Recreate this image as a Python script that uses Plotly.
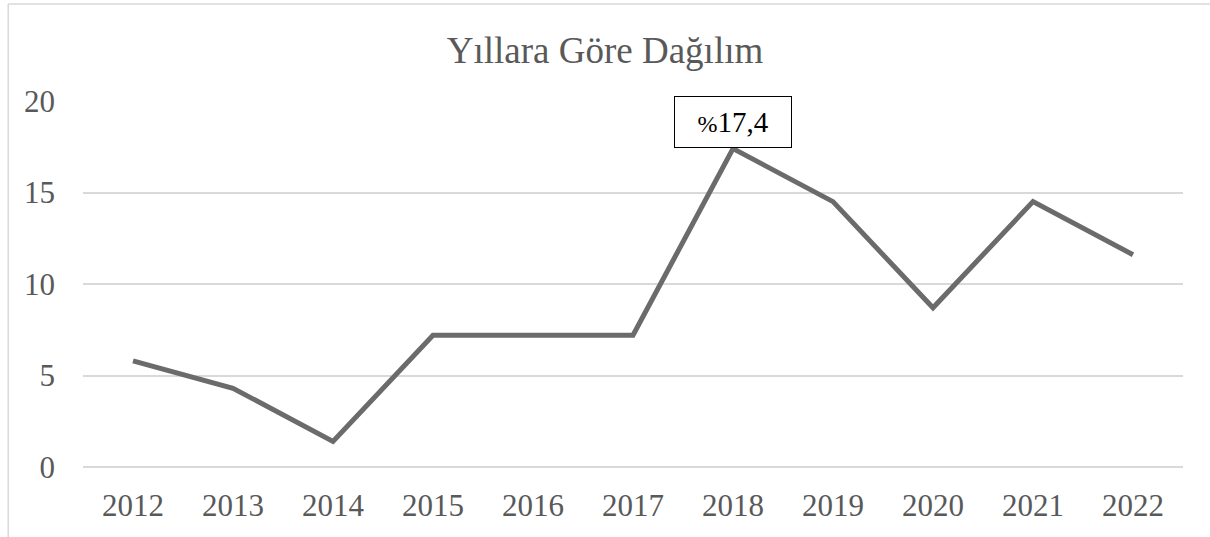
import plotly.graph_objects as go

years = ["2012", "2013", "2014", "2015", "2016", "2017", "2018", "2019", "2020", "2021", "2022"]
values = [5.8, 4.3, 1.4, 7.2, 7.2, 7.2, 17.4, 14.5, 8.7, 14.5, 11.6]
y_ticks = [0, 5, 10, 15, 20]
title_text = "Yıllara Göre Dağılım"
peak_label = "<span style='font-size:24px'>%</span>17,4"

TEXT = "#595959"
FONT = "Liberation Serif, Times New Roman, serif"

fig = go.Figure()
fig.add_trace(go.Scatter(
    x=years, y=values, mode="lines",
    line=dict(color="#6b6b6b", width=5),
    hoverinfo="x+y",
))

peak_i = values.index(max(values))
fig.add_annotation(
    x=peak_i, y=values[peak_i], xref="x", yref="y",
    text=peak_label, showarrow=False, yanchor="bottom", yshift=1,
    font=dict(family=FONT, size=29, color="#000000"),
    bgcolor="#ffffff", bordercolor="#000000", borderwidth=1, borderpad=0,
    width=116, height=50, align="center", valign="middle",
)

# outer chart border (top and left edges visible)
fig.add_shape(type="line", xref="paper", yref="paper",
              x0=-0.068, x1=1.1, y0=1.265, y1=1.265,
              line=dict(color="#d9d9d9", width=1.5))
fig.add_shape(type="line", xref="paper", yref="paper",
              x0=-0.068, x1=-0.068, y0=-0.3, y1=1.265,
              line=dict(color="#d9d9d9", width=1.5))

fig.update_layout(
    width=1210, height=537,
    margin=dict(l=83, r=27, t=101, b=70),
    paper_bgcolor="#ffffff", plot_bgcolor="#ffffff",
    showlegend=False,
    title=dict(text=title_text, x=0.5, xanchor="center", y=1 - 50 / 537, yanchor="middle",
               font=dict(family=FONT, size=37, color=TEXT)),
    font=dict(family=FONT, color=TEXT),
)
fig.update_xaxes(
    type="category", range=[-0.5, len(years) - 0.5], showgrid=False, showline=False, zeroline=False,
    tickfont=dict(family=FONT, size=31, color=TEXT), ticks="", ticklabelstandoff=17,
)
fig.update_yaxes(
    range=[0, 20], tickvals=y_ticks, showgrid=True, gridcolor="#d9d9d9", gridwidth=1.5,
    zeroline=True, zerolinecolor="#d9d9d9", zerolinewidth=1.5, showline=False,
    tickfont=dict(family=FONT, size=31, color=TEXT), ticks="", ticklabelstandoff=27,
)

fig.write_html("out.html", config={"displayModeBar": False},
               post_script="document.body.style.margin='0';")
